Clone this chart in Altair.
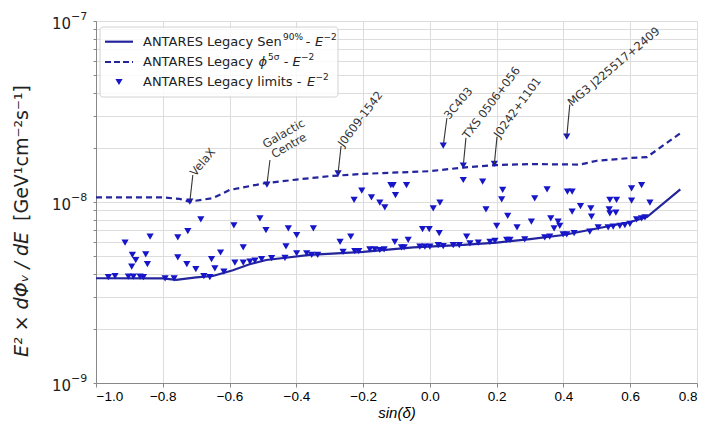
import altair as alt
import pandas as pd

UNIT = 1e-9
FONT = "DejaVu Sans"

# ---- sensitivity (solid) ----
sens_x = [-1.0, -0.8, -0.76, -0.70, -0.65, -0.59, -0.54, -0.49, -0.36, -0.2, -0.05,
          0.1, 0.2, 0.3, 0.4, 0.5, 0.6, 0.65, 0.75]
sens_y = [3.79, 3.78, 3.71, 3.83, 3.90, 4.2, 4.53, 4.78, 5.1, 5.3, 5.62,
          5.79, 5.97, 6.24, 6.57, 7.14, 7.75, 8.26, 11.75]

# ---- discovery potential (dashed) ----
dp_x = [-1.0, -0.8, -0.75, -0.72, -0.65, -0.6, -0.5, -0.4, -0.3, -0.2, 0.0,
        0.1, 0.2, 0.3, 0.45, 0.5, 0.6, 0.65, 0.75]
dp_y = [10.6, 10.6, 10.4, 10.05, 10.5, 11.65, 12.65, 13.3, 13.9, 14.3, 14.8,
        15.5, 16.0, 16.2, 16.1, 16.9, 17.5, 17.7, 24.0]

# ---- limits (triangles) ----
lim_x = [-0.963, -0.943, -0.903, -0.888, -0.868, -0.858,
         -0.913, -0.891, -0.881, -0.893, -0.838, -0.851, -0.846,
         -0.793, -0.766,
         -0.719,
         -0.686, -0.725, -0.755, -0.755, -0.728, -0.701, -0.677, -0.659,
         -0.587, -0.509, -0.491, -0.424, -0.399, -0.559, -0.627, -0.654, -0.644, -0.431,
         -0.488,
         -0.617, -0.584, -0.559, -0.539, -0.524, -0.504, -0.474, -0.434, -0.399, -0.369,
         -0.275,
         -0.349, -0.354, -0.336, -0.269, -0.237, -0.260, -0.225, -0.213, -0.180, -0.165,
         -0.150, -0.137, -0.105, -0.085, -0.077, -0.065,
         -0.227, -0.204, -0.175, -0.150, -0.135, -0.117, -0.110, -0.103, -0.070,
         0.040, 0.100, 0.193,
         0.100, 0.158, 0.218, 0.215, 0.010, 0.030, 0.168, 0.233, -0.022, -0.002, 0.028,
         0.110, 0.200, 0.261,
         -0.030, -0.015, 0.000, 0.025, 0.040, 0.070, 0.088, 0.120, 0.145, 0.180, 0.195,
         0.230, 0.240,
         0.304, 0.314, 0.351, 0.362, 0.372, 0.384, 0.389, 0.412, 0.426, 0.426, 0.451,
         0.482, 0.484, 0.504,
         0.284, 0.344, 0.359, 0.399, 0.410, 0.432, 0.479,
         0.410,
         0.534, 0.549, 0.569, 0.584, 0.599, 0.619, 0.634, 0.644,
         0.539, 0.559, 0.537, 0.539, 0.557, 0.604, 0.634, 0.604, 0.659]
lim_y = [3.84, 3.90, 3.87, 3.87, 3.87, 3.84,
         5.96, 5.10, 4.78, 4.39, 6.43, 5.14, 4.53,
         3.79, 3.79,
         10.04,
         8.02, 6.91, 6.38, 4.95, 4.53, 4.26, 3.90, 3.84,
         7.42, 8.13, 7.00, 7.16, 6.57, 5.61, 5.26, 4.83, 4.30, 5.69,
         12.49,
         4.12, 4.62, 4.62, 4.68, 4.74, 4.83, 4.89, 4.92, 5.21, 5.21,
         14.41,
         7.16, 5.10, 5.10, 6.03, 6.43, 5.31, 5.36, 5.36, 5.48, 5.48,
         5.43, 5.48, 6.03, 5.62, 5.62, 6.17,
         10.26, 11.54, 10.62, 9.91, 9.35, 12.41, 12.41, 10.93, 12.41,
         20.5, 15.91, 16.22,
         13.23, 12.95, 11.65, 10.35, 9.23, 9.91, 9.11, 8.37, 7.09, 7.09, 6.72,
         6.43, 7.37, 7.25,
         5.66, 5.66, 5.66, 5.78, 5.71, 5.78, 5.78, 5.91, 5.96, 6.03, 6.09,
         6.17, 6.17,
         7.78, 10.48, 11.75, 8.13, 7.16, 7.78, 7.37, 11.40, 11.40, 8.84, 9.50,
         9.23, 8.29, 7.25,
         6.22, 6.38, 6.43, 6.63, 6.63, 6.72, 6.85,
         22.96,
         7.25, 7.30, 7.37, 7.46, 7.56, 8.02, 8.13, 8.23,
         10.26, 10.26, 9.11, 8.66, 8.73, 11.90, 12.41, 10.17, 9.91]
assert len(lim_x) == len(lim_y)

# ---- annotations: arrow from source marker (x, y) to text anchor (tx, ty) ----
ann_label = ["VelaX", "J0609-1542", "3C403", "TXS 0506+056", "J0242+1101", "MG3 J225517+2409"]
ann_x = [-0.719, -0.275, 0.040, 0.100, 0.193, 0.410]
ann_y = [10.04, 14.41, 20.5, 15.91, 16.22, 22.96]
ann_tx = [-0.710, -0.266, 0.051, 0.108, 0.201, 0.419]
ann_ty = [14.1, 20.4, 29.1, 22.6, 22.9, 34.5]
ann_rot = [310, 307, 310, 307, 306, 320]

gc_x = [-0.488]
gc_y = [12.49]
gc_tx = [-0.479]
gc_ty = [17.06]
gc_lines = ["Galactic", "Centre"]
gc_lx = [-0.497, -0.471]
gc_ly = [20.4, 17.95]
gc_rot = [330, 330]

x_ticks = [-1.0, -0.8, -0.6, -0.4, -0.2, 0.0, 0.2, 0.4, 0.6, 0.8]
y_ticks = [1e-9, 2e-9, 3e-9, 4e-9, 5e-9, 6e-9, 7e-9, 8e-9, 9e-9,
           1e-8, 2e-8, 3e-8, 4e-8, 5e-8, 6e-8, 7e-8, 8e-8, 9e-8, 1e-7]
y_decades = [1e-9, 1e-8, 1e-7]
y_dec_exp = ["−9", "−8", "−7"]

# ---- tables ----
sens_df = pd.DataFrame({"x": sens_x, "y": [v * UNIT for v in sens_y]})
dp_df = pd.DataFrame({"x": dp_x, "y": [v * UNIT for v in dp_y]})
lim_df = pd.DataFrame({"x": lim_x, "y": [v * UNIT for v in lim_y]})
ann_df = pd.DataFrame({"label": ann_label, "x": ann_x, "y": [v * UNIT for v in ann_y],
                       "tx": ann_tx, "ty": [v * UNIT for v in ann_ty], "rot": ann_rot})
gc_df = pd.DataFrame({"x": gc_x, "y": [v * UNIT for v in gc_y],
                      "tx": gc_tx, "ty": [v * UNIT for v in gc_ty]})
gc_txt_df = pd.DataFrame({"label": gc_lines, "x": gc_lx, "y": [v * UNIT for v in gc_ly], "rot": gc_rot})
dec_df = pd.DataFrame({"v": y_decades, "e": y_dec_exp})
one = pd.DataFrame({"k": [0]})

LINE_C = "#24249c"
MARK_C = "#1616c8"
TXT_C = "#222222"

xscale = alt.Scale(domain=[-1.0, 0.8], nice=False, zero=False)
yscale = alt.Scale(type="log", domain=[1e-9, 1e-7], nice=False)
xaxis = alt.Axis(values=x_ticks, format=".1f", title="sin(δ)", titleFontStyle="italic",
                 titleFontSize=15, titleFontWeight="normal", titlePadding=3,
                 labelFontSize=13.5, tickSize=4, labelPadding=2, grid=True)
yaxis = alt.Axis(values=y_ticks, title="", labelExpr="''", tickSize=3, grid=True)


def X(f):
    return alt.X(f, type="quantitative", scale=xscale, axis=xaxis)


def Y(f):
    return alt.Y(f, type="quantitative", scale=yscale, axis=yaxis)


sens = alt.Chart(sens_df).mark_line(color=LINE_C, strokeWidth=2.2).encode(x=X("x"), y=Y("y"))
dp = alt.Chart(dp_df).mark_line(color=LINE_C, strokeWidth=2.2, strokeDash=[6, 4]).encode(x=X("x"), y=Y("y"))
pts = alt.Chart(lim_df).mark_point(shape="triangle-down", filled=True, size=52, color=MARK_C,
                                   opacity=1).encode(x=X("x"), y=Y("y"))

arrows = alt.Chart(ann_df).mark_rule(color="#333333", strokeWidth=1.1).encode(
    x=X("x"), y=Y("y"), x2="tx", y2="ty")
ann_txt = alt.Chart(ann_df).mark_text(align="left", baseline="middle", font=FONT, fontSize=11.5,
                                      color="#333333").encode(
    x=X("tx"), y=Y("ty"), text="label:N", angle=alt.Angle("rot:Q", scale=None))
gc_arrow = alt.Chart(gc_df).mark_rule(color="#333333", strokeWidth=1.1).encode(
    x=X("x"), y=Y("y"), x2="tx", y2="ty")
gc_txt = alt.Chart(gc_txt_df).mark_text(align="left", baseline="middle", font=FONT, fontSize=11.5,
                                        color="#333333").encode(
    x=X("x"), y=Y("y"), text="label:N", angle=alt.Angle("rot:Q", scale=None))

# y tick labels 10^n with real superscripts
ylab_base = alt.Chart(dec_df).mark_text(align="right", baseline="middle", dy=3, font=FONT,
                                        fontSize=15, color=TXT_C).encode(
    x=alt.value(-25), y=Y("v"), text=alt.value("10"))
ylab_exp = alt.Chart(dec_df).mark_text(align="left", baseline="middle", dy=-4, font=FONT,
                                       fontSize=11, color=TXT_C).encode(
    x=alt.value(-25), y=Y("v"), text="e:N")


def txt(s, x, y, size=13, style="normal", align="left", baseline="middle", angle=0):
    kw = dict(align=align, baseline=baseline, fontSize=size, fontStyle=style, font=FONT, color=TXT_C)
    if angle:
        kw["angle"] = angle
    return alt.Chart(one).mark_text(**kw).encode(x=alt.value(x), y=alt.value(y), text=alt.value(s))


# legend (manual, to allow superscripts)
leg_box = alt.Chart(one).mark_rect(fill="white", opacity=0.85, stroke="#cccccc", strokeWidth=1,
                                   cornerRadius=3).encode(
    x=alt.value(4), x2=alt.value(242), y=alt.value(6), y2=alt.value(76))
leg_l1 = alt.Chart(one).mark_rule(color=LINE_C, strokeWidth=2.2).encode(
    x=alt.value(9), x2=alt.value(37), y=alt.value(20.7))
leg_l2 = alt.Chart(one).mark_rule(color=LINE_C, strokeWidth=2.2, strokeDash=[6, 3]).encode(
    x=alt.value(9), x2=alt.value(37), y=alt.value(41))
leg_p = alt.Chart(one).mark_point(shape="triangle-down", filled=True, size=52, color=MARK_C, opacity=1).encode(
    x=alt.value(23), y=alt.value(61))

legend_parts = [
    txt("ANTARES Legacy Sen", 47, 20.7), txt("90%", 187, 15.5, size=9),
    txt("-", 212, 20.7, align="center"), txt("E", 219, 20.7, style="italic"), txt("−2", 227.5, 15.5, size=9),
    txt("ANTARES Legacy", 47, 41), txt("ϕ", 162.5, 41, style="italic"), txt("5σ", 172, 35.8, size=9),
    txt("-", 190, 41, align="center"), txt("E", 196.5, 41, style="italic"), txt("−2", 205, 35.8, size=9),
    txt("ANTARES Legacy limits -", 47, 61), txt("E", 211, 61, style="italic"), txt("−2", 219.5, 55.8, size=9),
]

# y-axis title (manual, mixed italic / upright)
ytitle = [
    txt("E² × dΦᵥ / dE", -74, 336, size=19, style="italic", angle=270),
    txt("[GeV¹cm⁻²s⁻¹]", -74, 200, size=19, angle=270),
]

chart = alt.layer(
    sens, dp, pts, arrows, gc_arrow, ann_txt, gc_txt, ylab_base, ylab_exp,
    leg_box, leg_l1, leg_l2, leg_p, *legend_parts, *ytitle
).properties(
    width=601, height=362,
    padding={"left": 96, "top": 21, "right": 11, "bottom": 46},
    autosize=alt.AutoSizeParams(type="none"),
).configure_view(
    stroke="#999999", strokeWidth=1
).configure_axis(
    labelFont=FONT, titleFont=FONT, labelColor=TXT_C, titleColor=TXT_C,
    domainColor="#444444", tickColor="#444444", gridColor="#d6d6d6", gridDash=[3, 2],
    gridWidth=0.8
).configure(background="white")

chart.save("out.html", embed_options={"renderer": "svg", "actions": False})
